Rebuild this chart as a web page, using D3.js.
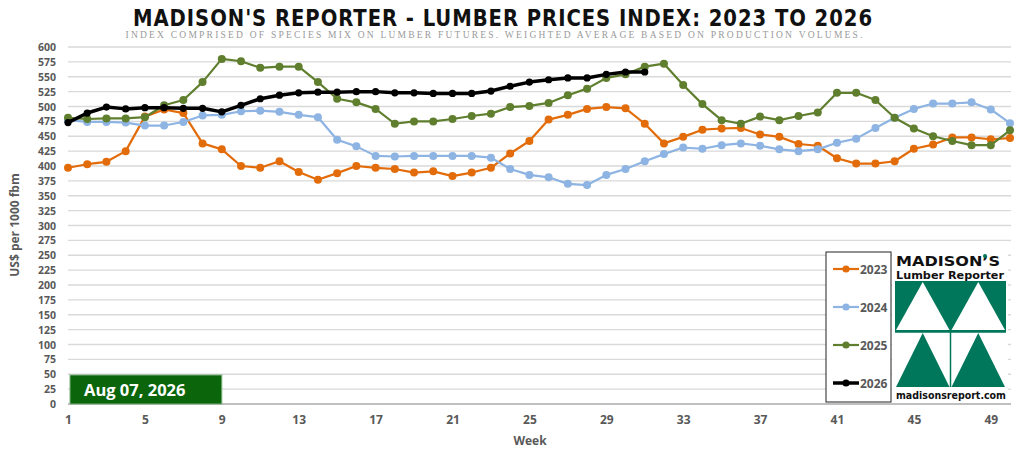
<!DOCTYPE html>
<html>
<head>
<meta charset="utf-8">
<script src="https://cdn.jsdelivr.net/npm/d3@7"></script>
<style>
  body { margin: 0; background: #fff; }
  text { font-family: "Open Sans", "Liberation Sans", sans-serif; }
</style>
</head>
<body>
<svg id="chart" width="1024" height="457"></svg>
<script>
// weekly index values
var weeks = d3.range(1, 51);
var y2023 = [397,403,407,425,483,495,489,438,428,400,397,408,390,377,388,400,397,395,389,391,383,389,397,421,442,478,486,496,499,497,471,438,449,461,463,464,453,449,437,434,413,404,404,408,429,436,448,448,445,447];
var y2024 = [477,474,474,473,468,468,474,485,486,492,493,491,486,482,444,433,417,416,417,417,417,417,414,395,385,381,370,368,385,395,408,420,431,429,435,438,434,428,425,428,439,446,464,481,496,505,505,507,495,472];
var y2025 = [481,479,480,480,482,502,511,541,580,576,565,567,567,541,513,507,496,471,475,475,479,484,488,499,501,506,519,530,548,554,567,572,536,504,477,471,483,477,484,490,523,523,511,481,463,450,442,435,435,460];
var y2026 = [473,489,499,496,498,498,497,497,491,502,513,519,523,524,524,525,525,523,523,522,522,522,526,534,541,545,548,548,554,558,558];

var seriesNames = ['2023', '2024', '2025', '2026'];
var seriesColors = ['#e36c0a', '#8db4e2', '#5f7f2f', '#000000'];
var yTicks = d3.range(0, 601, 25);
var xTicks = [1, 5, 9, 13, 17, 21, 25, 29, 33, 37, 41, 45, 49];
var dateLabel = 'Aug 07, 2026';

var svg = d3.select('#chart');

// scales
var x = d3.scaleLinear().domain([1, 50]).range([68, 1010]);
var y = d3.scaleLinear().domain([0, 600]).range([404, 47]);

// title + subtitle
svg.append('text').attr('x', 503).attr('y', 26).attr('text-anchor', 'middle')
  .attr('textLength', 740).attr('lengthAdjust', 'spacingAndGlyphs')
  .style('font-family', '"Liberation Sans Narrow", "DejaVu Sans Condensed", sans-serif')
  .style('font-weight', 'bold').style('font-size', '23px').style('letter-spacing', '1px')
  .attr('fill', '#111').text("MADISON'S REPORTER - LUMBER PRICES INDEX: 2023 TO 2026");

svg.append('text').attr('x', 494).attr('y', 38).attr('text-anchor', 'middle')
  .attr('textLength', 737).attr('lengthAdjust', 'spacing')
  .style('font-family', '"Liberation Serif", "DejaVu Serif", serif')
  .style('font-size', '9.5px').attr('fill', '#9a9a9a')
  .text('INDEX COMPRISED OF SPECIES MIX ON LUMBER FUTURES. WEIGHTED AVERAGE BASED ON PRODUCTION VOLUMES.');

// gridlines
svg.append('g').selectAll('line').data(yTicks.filter(d => d > 0)).join('line')
  .attr('x1', 68).attr('x2', 1011)
  .attr('y1', d => y(d)).attr('y2', d => y(d))
  .attr('stroke', '#d9d9d9').attr('stroke-width', 1.3);

// y axis labels
svg.append('g').selectAll('text').data(yTicks).join('text')
  .attr('x', 56).attr('y', d => y(d) + 4).attr('text-anchor', 'end')
  .style('font-size', '10.5px').style('font-weight', 'bold').attr('fill', '#595959')
  .text(d => d);

// x axis
var xAxis = d3.axisBottom(x).tickValues(xTicks).tickSize(0).tickPadding(11);
var gx = svg.append('g').attr('transform', 'translate(0,404)').call(xAxis);
gx.select('.domain').attr('stroke', '#bfbfbf').attr('stroke-width', 2).attr('d', 'M68,0H1011');
gx.selectAll('text').style('font-size', '12px').style('font-weight', 'bold')
  .style('font-family', '"Open Sans", sans-serif').attr('fill', '#595959');

// axis titles
svg.append('text').attr('x', 530).attr('y', 445).attr('text-anchor', 'middle')
  .style('font-size', '12px').style('font-weight', 'bold').attr('fill', '#595959').text('Week');
svg.append('text').attr('transform', 'translate(19,225) rotate(-90)').attr('text-anchor', 'middle')
  .style('font-size', '12px').style('font-weight', 'bold').attr('fill', '#595959').text('US$ per 1000 fbm');

// series
var allSeries = [y2023, y2024, y2025, y2026];
var line = d3.line().x((d, i) => x(weeks[i])).y(d => y(d));
allSeries.forEach((vals, k) => {
  var g = svg.append('g');
  g.append('path').datum(vals).attr('d', line).attr('fill', 'none')
    .attr('stroke', seriesColors[k]).attr('stroke-width', k == 3 ? 3.5 : 2.2)
    .attr('stroke-linejoin', 'round');
  g.selectAll('circle').data(vals).join('circle')
    .attr('cx', (d, i) => x(weeks[i])).attr('cy', d => y(d))
    .attr('r', k == 3 ? 3.6 : 4).attr('fill', seriesColors[k]);
});

// date badge
svg.append('rect').attr('x', x(1) + 2).attr('y', 375).attr('width', x(9) - x(1) - 2).attr('height', 29)
  .attr('fill', '#0b650b').attr('stroke', '#7fae7f').attr('stroke-width', 1);
svg.append('text').attr('x', 84).attr('y', 396)
  .style('font-size', '16.5px').style('font-weight', 'bold').attr('fill', '#fff').text(dateLabel);

// legend
var lg = svg.append('g');
lg.append('rect').attr('x', 826).attr('y', 252).attr('width', 65).attr('height', 150)
  .attr('fill', '#fff').attr('stroke', '#222').attr('stroke-width', 1);
seriesNames.forEach((name, k) => {
  var ly = 269 + k * 38;
  lg.append('line').attr('x1', 833).attr('x2', 859).attr('y1', ly).attr('y2', ly)
    .attr('stroke', seriesColors[k]).attr('stroke-width', k == 3 ? 3.5 : 2.2);
  lg.append('circle').attr('cx', 846).attr('cy', ly).attr('r', 3.6).attr('fill', seriesColors[k]);
  lg.append('text').attr('x', 860).attr('y', ly + 4.5)
    .style('font-size', '12px').style('font-weight', 'bold').attr('fill', '#595959').text(name);
});

// logo
var logo = svg.append('g');
var lgreen = '#00775a';
logo.append('rect').attr('x', 892).attr('y', 252).attr('width', 116).attr('height', 151).attr('fill', '#fff');
logo.append('text').attr('x', 896).attr('y', 266)
  .attr('textLength', 104).attr('lengthAdjust', 'spacingAndGlyphs')
  .style('font-family', '"DejaVu Sans", sans-serif')
  .style('font-size', '14px').style('font-weight', 'bold').attr('fill', '#111').text("MADISON\u2019S");
logo.append('circle').attr('cx', 985).attr('cy', 256).attr('r', 2).attr('fill', lgreen);
logo.append('text').attr('x', 896).attr('y', 279)
  .attr('textLength', 108).attr('lengthAdjust', 'spacingAndGlyphs')
  .style('font-family', '"DejaVu Sans", sans-serif')
  .style('font-size', '11px').style('font-weight', 'bold').attr('fill', '#111').text('Lumber Reporter');
var L = 895, R = 1006, M = 950.5, T = 281, Mid = 332, B = 387;
logo.append('rect').attr('x', L).attr('y', T).attr('width', R - L).attr('height', Mid - T).attr('fill', lgreen);
[[L, M], [M, R]].forEach(p => {
  var cx = (p[0] + p[1]) / 2;
  logo.append('path').attr('d', `M${cx},${T + 1}L${p[1] - 1},${Mid - 2}L${p[0] + 1},${Mid - 2}Z`).attr('fill', '#fff');
  logo.append('path').attr('d', `M${cx},${Mid + 1}L${p[1] - 1},${B}L${p[0] + 1},${B}Z`).attr('fill', lgreen);
});
logo.append('line').attr('x1', M).attr('x2', M).attr('y1', Mid).attr('y2', B).attr('stroke', lgreen).attr('stroke-width', 1.5);
logo.append('line').attr('x1', L).attr('x2', R).attr('y1', Mid).attr('y2', Mid).attr('stroke', lgreen).attr('stroke-width', 1.5);
logo.append('text').attr('x', 896).attr('y', 399)
  .attr('textLength', 110).attr('lengthAdjust', 'spacingAndGlyphs')
  .style('font-family', '"DejaVu Sans", sans-serif')
  .style('font-size', '10px').style('font-weight', 'bold').attr('fill', '#111').text('madisonsreport.com');
</script>
</body>
</html>
